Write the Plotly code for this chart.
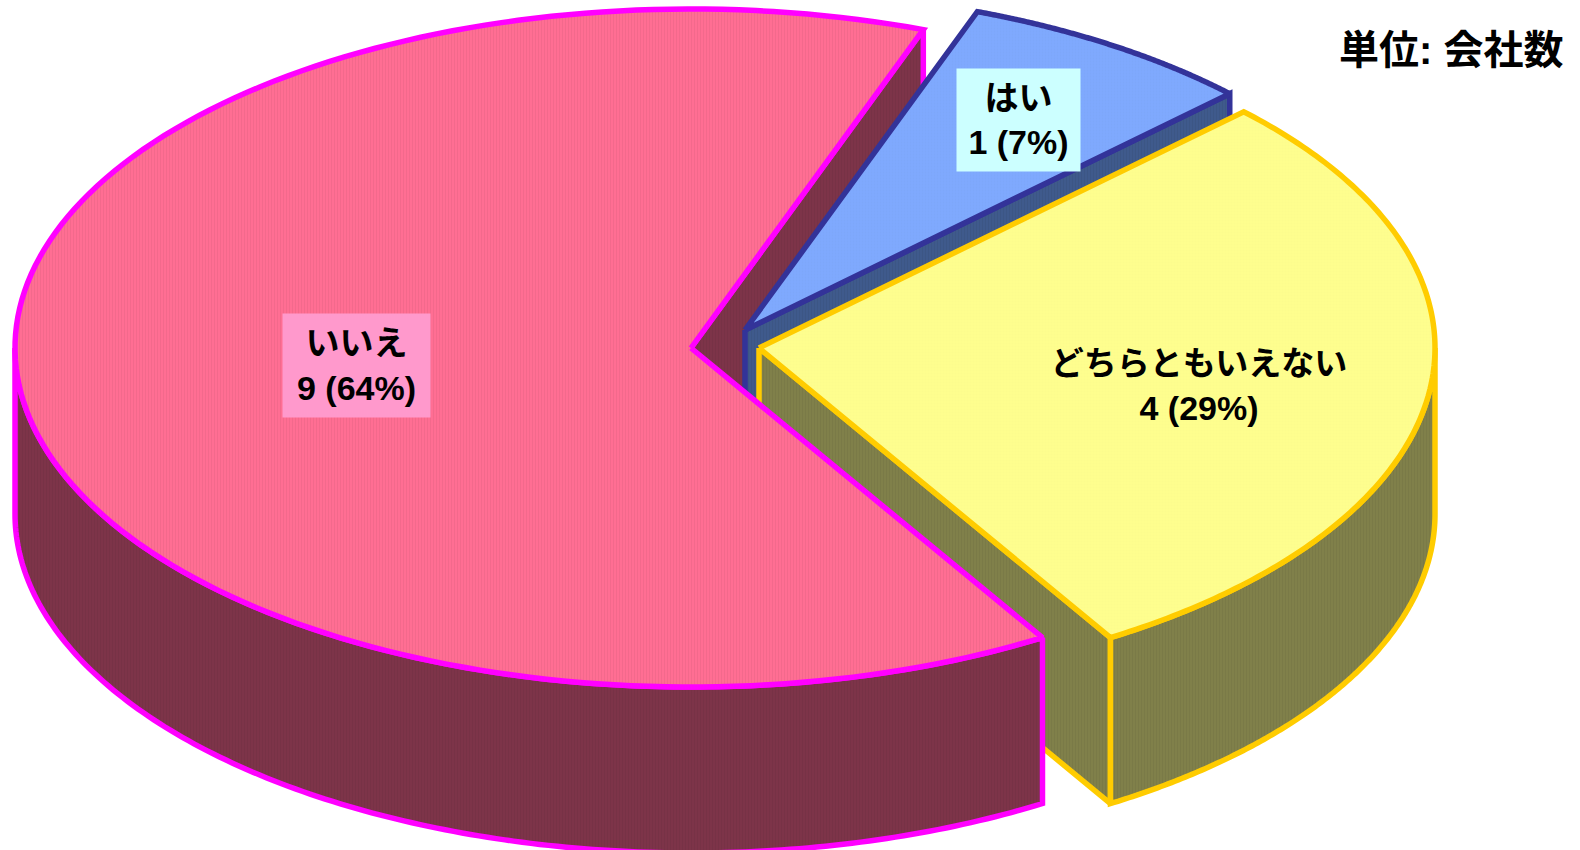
import numpy as np
import plotly.graph_objects as go

# Data
categories = ["はい", "どちらともいえない", "いいえ"]
values = [1, 4, 9]
percent_labels = ["7%", "29%", "64%"]
unit_label = "単位: 会社数"

# Styles
top_colors = ["#80AAFF", "#FFFF8F", "#FF6E93"]
side_colors = ["#3F5A8C", "#80804A", "#7D3449"]
edge_colors = ["#333399", "#FFCC00", "#FF00FF"]
pattern_shapes = [".", ".", "|"]
pattern_opacity = [0.02, 0.012, 0.05]
label_bg = ["#CCFFFF", "rgba(0,0,0,0)", "#FF99CC"]
label_box = [(123, 102), (320, 102), (147, 103)]
title_size = [34, 33, 34]
centers = [(745, 330), (759, 348), (691, 348)]
label_radius = [0.74, 0.65, 0.5]
label_shift = [(1, 0), (4, 10), (2, 1)]
RX, RY, DEPTH, START = 676, 339, 166, 20.1
EDGE = 5.5
FONT = "Liberation Sans, Noto Sans CJK JP"

total = sum(values)
bounds = START + np.cumsum([0] + values) * 360 / total


def rim(c, a, b, n=160, dy=0):
    t = np.radians(np.linspace(a, b, n))
    return c[0] + RX * np.sin(t), c[1] - RY * np.cos(t) + dy


fig = go.Figure()


def poly(x, y, fill, edge, shape, opacity=0.05):
    fig.add_trace(go.Scatter(
        x=list(x) + [x[0]], y=list(y) + [y[0]], mode="lines", fill="toself",
        fillcolor=fill,
        fillpattern=dict(shape=shape, size=3, solidity=0.3, bgcolor=fill,
                         fgcolor="black", fgopacity=opacity),
        line=dict(color=edge, width=EDGE, simplify=False),
        hoverinfo="skip", showlegend=False))


def top(i):
    c = centers[i]
    x, y = rim(c, bounds[i], bounds[i + 1])
    poly(np.r_[c[0], x], np.r_[c[1], y], top_colors[i], edge_colors[i],
         pattern_shapes[i], pattern_opacity[i])


def radial(i, ang):
    c = centers[i]
    x, y = rim(c, ang, ang, n=1)
    poly([c[0], x[0], x[0], c[0]], [c[1], y[0], y[0] + DEPTH, c[1] + DEPTH],
         side_colors[i], edge_colors[i], "|")


def wall(i, a, b):
    c = centers[i]
    x, y = rim(c, a, b)
    xb, yb = rim(c, b, a, dy=DEPTH)
    poly(np.r_[x, xb], np.r_[y, yb], side_colors[i], edge_colors[i], "|")


# Painted from back to front
radial(2, bounds[0] + 360)          # cut face of the largest slice
radial(0, bounds[1])                # cut face of the small slice
top(0)
radial(1, bounds[2])                # cut face of the middle slice
wall(1, 90, bounds[2])
top(1)
wall(2, bounds[2], 270)
top(2)

for i, cat in enumerate(categories):
    mid = np.radians((bounds[i] + bounds[i + 1]) / 2)
    c = centers[i]
    fig.add_annotation(
        x=c[0] + RX * label_radius[i] * np.sin(mid) + label_shift[i][0],
        y=c[1] - RY * label_radius[i] * np.cos(mid) + label_shift[i][1],
        text=f'<b><span style="font-size:{title_size[i]}px">{cat}</span><br>'
             f"{values[i]} ({percent_labels[i]})</b>",
        width=label_box[i][0], height=label_box[i][1],
        showarrow=False, align="center", valign="middle",
        bgcolor=label_bg[i], borderpad=0,
        font=dict(family=FONT, size=34, color="black"))

fig.add_annotation(x=1565, y=50, xanchor="right", text=f"<b>{unit_label}</b>",
                   showarrow=False, font=dict(family=FONT, size=40, color="black"))

fig.update_layout(
    width=1580, height=850, margin=dict(l=0, r=0, t=0, b=0),
    paper_bgcolor="white", plot_bgcolor="white", showlegend=False,
    xaxis=dict(range=[0, 1580], visible=False, fixedrange=True),
    yaxis=dict(range=[850, 0], visible=False, fixedrange=True),
)
fig.write_html("out.html", config={"displayModeBar": False},
               post_script="document.body.style.margin='0';document.body.style.overflow='hidden';")
